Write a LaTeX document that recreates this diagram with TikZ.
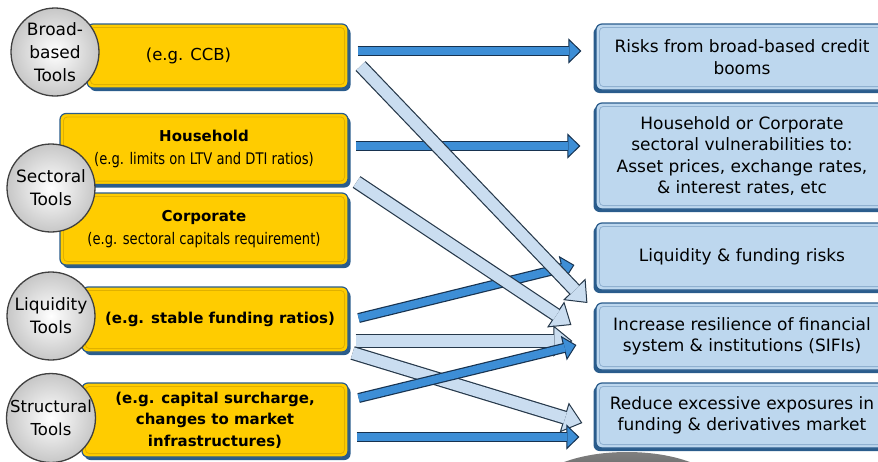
\documentclass[tikz,border=0pt]{standalone}
\usepackage{fontspec}
\setmainfont{DejaVu Sans}
\newfontfamily\narrowfont[FakeStretch=0.82]{DejaVu Sans}
\usepackage{xcolor}
\usetikzlibrary{arrows.meta}

\definecolor{toolyellow}{HTML}{FFCC00}
\definecolor{toolinner}{HTML}{E0B000}
\definecolor{boxedge}{HTML}{2A5C8C}
\definecolor{riskblue}{HTML}{BDD7EE}
\definecolor{riskinner}{HTML}{8FB0D0}
\definecolor{darkfill}{HTML}{3D8ED6}
\definecolor{darkedge}{HTML}{17324F}
\definecolor{lightfill}{HTML}{CADDF0}
\definecolor{lightedge}{HTML}{26384A}

\begin{document}
\begin{tikzpicture}[x=1pt, y=-1pt,
    toolbox/.style={draw=boxedge, line width=1.2pt, fill=toolyellow, rounded corners=6pt,
        preaction={fill=boxedge, transform canvas={shift={(2.5pt,-3pt)}}}},
    riskbox/.style={draw=boxedge, line width=1.2pt, fill=riskblue, rounded corners=6pt,
        align=center, font=\fontsize{17}{21.5}\selectfont, minimum width=292pt,
        preaction={fill=boxedge, transform canvas={shift={(-2.5pt,-3pt)}}}},
    tooldisc/.style={circle, minimum size=88pt, inner sep=0pt, draw=black!75, line width=1.3pt,
        inner color=white, outer color=black!22, align=center, font=\fontsize{17}{23}\selectfont},
    darkarrow/.style={draw=darkedge, line width=10pt,
        -{Triangle[length=13pt, width=25pt, line width=1pt, fill=darkfill]},
        postaction={draw=darkfill, line width=7.6pt, -, shorten >=12pt}},
    lightarrow/.style={draw=lightedge, line width=14pt,
        -{Triangle[length=19pt, width=31pt, line width=1pt, fill=lightfill]},
        postaction={draw=lightfill, line width=11.6pt, -, shorten >=18pt}}]
    \useasboundingbox (0,0) rectangle (878,461);
    \clip (0,0) rectangle (878,461);

    % grey shape at the bottom edge
    \shade[top color=black!50, bottom color=black!85] (627,492) ellipse (95 and 40);

    % Left tool boxes
    \node[toolbox, minimum width=261pt, minimum height=64pt,
        label={[xshift=-29pt, font=\fontsize{16.5}{20}\selectfont]center:(e.g. CCB)}] (broad) at (217.5,56) {};
    \node[toolbox, minimum width=288pt, minimum height=71pt, align=center,
        font=\fontsize{16}{23}\selectfont] (house) at (204,149)
        {{\fontsize{15}{23}\selectfont\bfseries Household}\\
         {\narrowfont (e.g. limits on LTV and DTI ratios)}};
    \node[toolbox, minimum width=288pt, minimum height=72pt, align=center,
        font=\fontsize{16}{23}\selectfont] (corp) at (204,229)
        {{\fontsize{15}{23}\selectfont\bfseries Corporate}\\
         {\narrowfont (e.g. sectoral capitals requirement)}};
    \node[toolbox, minimum width=266pt, minimum height=65pt,
        font=\fontsize{15}{20}\selectfont\bfseries] (liq) at (215,319.5) {\hspace*{10pt}(e.g. stable funding ratios)};
    \node[toolbox, minimum width=266pt, minimum height=74pt, align=center,
        font=\fontsize{15}{21.5}\selectfont\bfseries] (struct) at (215,420)
        {(e.g. capital surcharge,\\changes to market\\infrastructures)};
    \foreach \b in {broad,house,corp,liq,struct}
        \draw[toolinner, line width=0.8pt, rounded corners=4pt]
            ([shift={(4,4)}]\b.north west) rectangle ([shift={(-4,-4)}]\b.south east);

    % Tool discs
    \node[tooldisc] (broadc) at (55,52) {Broad-\\based\\Tools};
    \node[tooldisc] (sectc) at (51,188) {Sectoral\\Tools};
    \node[tooldisc] (liqc) at (51,316) {Liquidity\\Tools};
    \node[tooldisc, font=\fontsize{16.5}{23}\selectfont] (structc) at (51,418) {Structural\\Tools};

    % Right risk boxes
    \node[riskbox, minimum height=66pt] (risks) at (742,57) {Risks from broad-based credit\\booms};
    \node[riskbox, minimum height=106pt] (sectvul) at (742,156)
        {Household or Corporate\\sectoral vulnerabilities to:\\Asset prices, exchange rates,\\\& interest rates, etc};
    \node[riskbox, minimum height=67pt] (liqrisk) at (742,256.5) {Liquidity \& funding risks};
    \node[riskbox, minimum height=67pt] (resil) at (742,336.5)
        {Increase resilience of financial\\system \& institutions (SIFIs)};
    \node[riskbox, minimum height=65pt] (reduce) at (742,415.5)
        {Reduce excessive exposures in\\funding \& derivatives market};
    \foreach \b in {risks,sectvul,liqrisk,resil,reduce}
        \draw[riskinner, line width=0.8pt, rounded corners=4pt]
            ([shift={(4,4)}]\b.north west) rectangle ([shift={(-4,-4)}]\b.south east);

    % Arrows
    \draw[darkarrow] ([shift={(9,-5)}]broad.east) -- ([shift={(-14,-6)}]risks.west);
    \draw[darkarrow] ([shift={(7,-3)}]house.east) -- ([shift={(-15,-10)}]sectvul.west);
    \draw[darkarrow] ([shift={(10,-1.5)}]liq.east) -- ([shift={(-21,8.5)}]liqrisk.west);
    \draw[lightarrow] ([shift={(12,10)}]broad.east) -- ([shift={(-8,-33.5)}]resil.west);
    \draw[lightarrow] ([shift={(8,-47)}]corp.east) -- ([shift={(-24,-11.5)}]resil.west);
    \draw[lightarrow] ([shift={(7,21.5)}]liq.east) -- ([shift={(-23,4.5)}]resil.west);
    \draw[lightarrow] ([shift={(4,33.5)}]liq.east) -- ([shift={(-13,7.5)}]reduce.west);
    \draw[darkarrow] ([shift={(10,-22)}]struct.east) -- ([shift={(-19,8.5)}]resil.west);
    \draw[darkarrow] ([shift={(8,17)}]struct.east) -- ([shift={(-16,21.5)}]reduce.west);
\end{tikzpicture}
\end{document}
